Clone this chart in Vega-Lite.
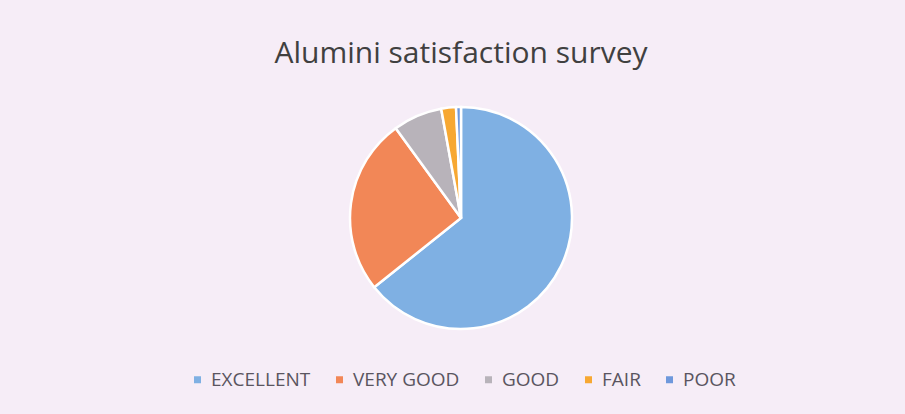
{
  "$schema": "https://vega.github.io/schema/vega-lite/v6.json",
  "autosize": {"type": "none"},
  "padding": {"left": 17, "top": 22, "right": 0, "bottom": 0},
  "width": 888,
  "height": 392,
  "background": "#f6edf7",
  "title": {
    "text": "Alumini satisfaction survey",
    "anchor": "middle",
    "frame": "group",
    "offset": -47,
    "font": "Open Sans",
    "fontSize": 30,
    "fontWeight": "normal",
    "color": "#404040"
  },
  "data": {
    "values": [
      {"rating": "EXCELLENT", "count": 90, "ord": 1},
      {"rating": "VERY GOOD", "count": 36, "ord": 2},
      {"rating": "GOOD", "count": 10, "ord": 3},
      {"rating": "FAIR", "count": 3, "ord": 4},
      {"rating": "POOR", "count": 1, "ord": 5}
    ]
  },
  "mark": {"type": "arc", "outerRadius": 111, "stroke": "#ffffff", "strokeWidth": 2.5},
  "encoding": {
    "theta": {"field": "count", "type": "quantitative", "stack": true},
    "order": {"field": "ord", "type": "quantitative"},
    "color": {
      "field": "rating",
      "type": "nominal",
      "scale": {
        "domain": ["EXCELLENT", "VERY GOOD", "GOOD", "FAIR", "POOR"],
        "range": ["#7fb0e3", "#f28757", "#b8b3ba", "#f7a832", "#6e98dc"]
      },
      "legend": {
        "title": null,
        "orient": "none",
        "direction": "horizontal",
        "legendX": 171,
        "legendY": 348,
        "symbolType": "square",
        "symbolSize": 49,
        "symbolStrokeWidth": 0,
        "labelFont": "Open Sans",
        "labelFontSize": 19,
        "labelColor": "#5a5560",
        "labelOffset": 4,
        "columnPadding": 19
      }
    }
  },
  "config": {"view": {"stroke": null}}
}
